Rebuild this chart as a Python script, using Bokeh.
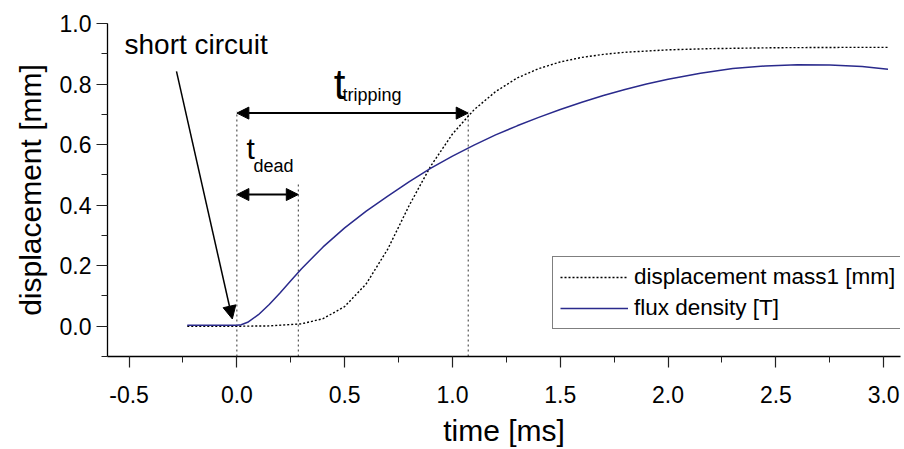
from bokeh.plotting import figure
from bokeh.models import (Range1d, SingleIntervalTicker, PrintfTickFormatter, Legend,
                          LegendItem, Arrow, NormalHead, Label, ColumnDataSource)
from bokeh.embed import file_html
from bokeh.resources import INLINE

# ---- data ----
time_disp = [-0.23, 0.0, 0.15, 0.30, 0.40, 0.50, 0.60, 0.70, 0.80, 0.90, 1.00, 1.10,
             1.20, 1.30, 1.40, 1.50, 1.60, 1.70, 1.80, 2.00, 2.20, 2.50, 2.80, 3.02]
disp_mass1 = [0.0, 0.0, 0.001, 0.008, 0.025, 0.065, 0.14, 0.255, 0.40, 0.53, 0.635, 0.715,
              0.775, 0.82, 0.851, 0.873, 0.888, 0.898, 0.905, 0.913, 0.917, 0.92, 0.921, 0.921]

time_flux = [-0.23, 0.0, 0.02, 0.05, 0.10, 0.15, 0.20, 0.25, 0.30, 0.40, 0.50, 0.60, 0.70,
             0.80, 0.90, 1.00, 1.10, 1.20, 1.30, 1.40, 1.50, 1.60, 1.70, 1.80, 1.90, 2.00,
             2.15, 2.30, 2.45, 2.60, 2.75, 2.90, 3.02]
flux_density = [0.003, 0.003, 0.005, 0.013, 0.038, 0.072, 0.11, 0.15, 0.19, 0.262, 0.325, 0.38,
                0.43, 0.478, 0.522, 0.562, 0.598, 0.632, 0.662, 0.69, 0.716, 0.74, 0.762,
                0.782, 0.80, 0.816, 0.836, 0.851, 0.86, 0.864, 0.863, 0.858, 0.849]

# event markers: short circuit (t=0), end of dead time, tripping time
marker_t = [0.0, 0.285, 1.073]
marker_top = [0.71, 0.475, 0.71]
t_dead = 0.285
t_trip = 1.073

FONT = "Liberation Sans"

p = figure(width=902, height=449, output_backend="svg", toolbar_location=None,
           x_range=Range1d(-0.6, 3.078), y_range=Range1d(-0.1, 1.0),
           min_border_left=107, min_border_right=2, min_border_top=23, min_border_bottom=93)
p.outline_line_color = None
p.xgrid.visible = False
p.ygrid.visible = False

p.xaxis.ticker = SingleIntervalTicker(interval=0.5, num_minor_ticks=2)
p.yaxis.ticker = SingleIntervalTicker(interval=0.2, num_minor_ticks=2)
p.xaxis.formatter = PrintfTickFormatter(format="%.1f")
p.yaxis.formatter = PrintfTickFormatter(format="%.1f")
for ax in (p.xaxis, p.yaxis):
    ax.axis_line_color = "black"
    ax.axis_line_width = 1.3
    ax.major_tick_line_color = "#222222"
    ax.minor_tick_line_color = "#222222"
    ax.major_tick_line_width = 1.2
    ax.minor_tick_line_width = 1.0
    ax.major_tick_in = 0
    ax.major_tick_out = 11
    ax.minor_tick_in = 0
    ax.minor_tick_out = 6
    ax.major_label_text_font = FONT
    ax.major_label_text_font_size = "23px"
    ax.major_label_text_color = "black"
    ax.axis_label_text_font = FONT
    ax.axis_label_text_font_style = "normal"
    ax.axis_label_text_color = "black"
p.xaxis.axis_label = "time [ms]"
p.yaxis.axis_label = "displacement [mm]"
p.xaxis.axis_label_text_font_size = "30px"
p.yaxis.axis_label_text_font_size = "30px"
p.xaxis.major_label_standoff = 18
p.yaxis.major_label_standoff = 5
p.xaxis.axis_label_standoff = 8
p.yaxis.axis_label_standoff = 10

# vertical dotted markers
msrc = ColumnDataSource(dict(x=marker_t, top=marker_top, bottom=[-0.1] * len(marker_t)))
p.segment(x0="x", y0="bottom", x1="x", y1="top", source=msrc,
          line_color="#333333", line_width=1, line_dash="2 3")

# curves
r_disp = p.line(time_disp, disp_mass1, line_color="black", line_width=1.4, line_dash="2 2")
r_flux = p.line(time_flux, flux_density, line_color="#2a2a8c", line_width=1.5)

# double arrows
for (x0, x1, yv) in [(0.0, t_trip, 0.704), (0.0, t_dead, 0.435)]:
    p.add_layout(Arrow(x_start=x0, y_start=yv, x_end=x1, y_end=yv, line_width=2, line_color="black",
                       start=NormalHead(size=12, fill_color="black", line_color="black"),
                       end=NormalHead(size=12, fill_color="black", line_color="black")))

# short circuit arrow
p.add_layout(Arrow(x_start=-0.28, y_start=0.842, x_end=-0.021, y_end=0.024,
                   line_width=1.5, line_color="black",
                   end=NormalHead(size=13, fill_color="black", line_color="black")))

def lab(x, y, text, size):
    p.add_layout(Label(x=x, y=y, text=text, text_font=FONT, text_font_size=size,
                       text_color="black", text_baseline="alphabetic", text_align="left"))

lab(-0.521, 0.931, "short circuit", "28px")
lab(0.449, 0.799, "t", "42px")
lab(0.49, 0.763, "tripping", "18px")
lab(0.045, 0.588, "t", "30px")
lab(0.077, 0.529, "dead", "18px")

legend = Legend(items=[LegendItem(label="displacement mass1 [mm]", renderers=[r_disp]),
                       LegendItem(label="flux density [T]", renderers=[r_flux])],
                location=(445, 27))
legend.label_text_font = FONT
legend.label_text_font_size = "22.5px"
legend.label_text_color = "black"
legend.glyph_width = 68
legend.glyph_height = 20
legend.label_height = 20
legend.label_standoff = 6
legend.spacing = 5
legend.padding = 7
legend.margin = 0
legend.border_line_color = "black"
legend.border_line_width = 1.5
legend.background_fill_alpha = 1
p.add_layout(legend)

open("out.html", "w").write(file_html(p, INLINE))
